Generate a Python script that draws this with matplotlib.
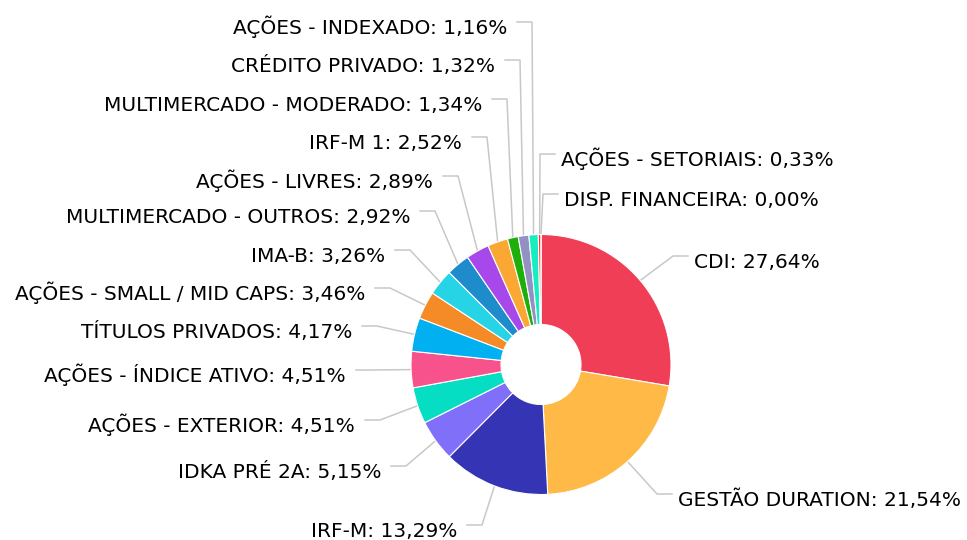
import numpy as np
import matplotlib.pyplot as plt

# carteira por segmento (%)
names = ['CDI', 'GESTÃO DURATION', 'IRF-M', 'IDKA PRÉ 2A', 'AÇÕES - EXTERIOR',
         'AÇÕES - ÍNDICE ATIVO', 'TÍTULOS PRIVADOS', 'AÇÕES - SMALL / MID CAPS',
         'IMA-B', 'MULTIMERCADO - OUTROS', 'AÇÕES - LIVRES', 'IRF-M 1',
         'MULTIMERCADO - MODERADO', 'CRÉDITO PRIVADO', 'AÇÕES - INDEXADO',
         'AÇÕES - SETORIAIS', 'DISP. FINANCEIRA']
values = [27.64, 21.54, 13.29, 5.15, 4.51, 4.51, 4.17, 3.46, 3.26, 2.92, 2.89,
          2.52, 1.34, 1.32, 1.16, 0.33, 0.00]
colors = ['#EF3E55', '#FFB946', '#3434B4', '#7F6FF9', '#06DEC3', '#F7528B',
          '#00B0F0', '#F58B26', '#27D4E5', '#1E8BCB', '#A748EA', '#FAA733',
          '#1FAF0A', '#9391C4', '#16EDC2', '#FF2A2A', '#CCCCCC']

# label layout (pixel positions): side, line y, elbow x
sides = ['R', 'R', 'L', 'L', 'L', 'L', 'L', 'L', 'L', 'L', 'L', 'L', 'L', 'L', 'L', 'R', 'R']
line_y = [256, 494, 525, 466, 420, 370, 326, 288, 250, 211, 176, 137, 99, 60, 22, 154, 194]
elbow_x = [673, 657, 482, 406, 380, 371, 377, 390, 410, 435, 458, 487, 507, 520, 532, 540, 543]

W, H = 967, 540
cx, cy = 541, 364.5
R, r_in = 130, 40

fig = plt.figure(figsize=(W / 100, H / 100), dpi=100)
ax = fig.add_axes([0, 0, 1, 1])

ax.pie(values, colors=colors, startangle=90, counterclock=False,
       center=(cx, H - cy), radius=R,
       wedgeprops=dict(width=R - r_in, edgecolor='white', linewidth=0.8))

ax.set_xlim(0, W)
ax.set_ylim(0, H)
ax.set_aspect('auto')
ax.axis('off')

total = sum(values)
cum = 0
for i, v in enumerate(values):
    mid = 90 - (cum + v / 2) / total * 360
    cum += v
    sx = cx + R * np.cos(np.radians(mid))
    sy = (H - cy) + R * np.sin(np.radians(mid))
    ex, ey = elbow_x[i], H - line_y[i]
    label = names[i] + ': ' + f'{v:.2f}'.replace('.', ',') + '%'
    if sides[i] == 'R':
        tx = ex + 15
        ax.plot([sx, ex, tx], [sy, ey, ey], color='#C8C8C8', lw=1.1, zorder=0)
        ax.text(tx + 6, ey - 12, label, ha='left', va='baseline',
                fontsize=14.5, color='#000000')
    else:
        tx = ex - 15
        ax.plot([sx, ex, tx], [sy, ey, ey], color='#C8C8C8', lw=1.1, zorder=0)
        ax.text(tx - 10, ey - 12, label, ha='right', va='baseline',
                fontsize=14.5, color='#000000')

fig.savefig('out.png', dpi=100)
